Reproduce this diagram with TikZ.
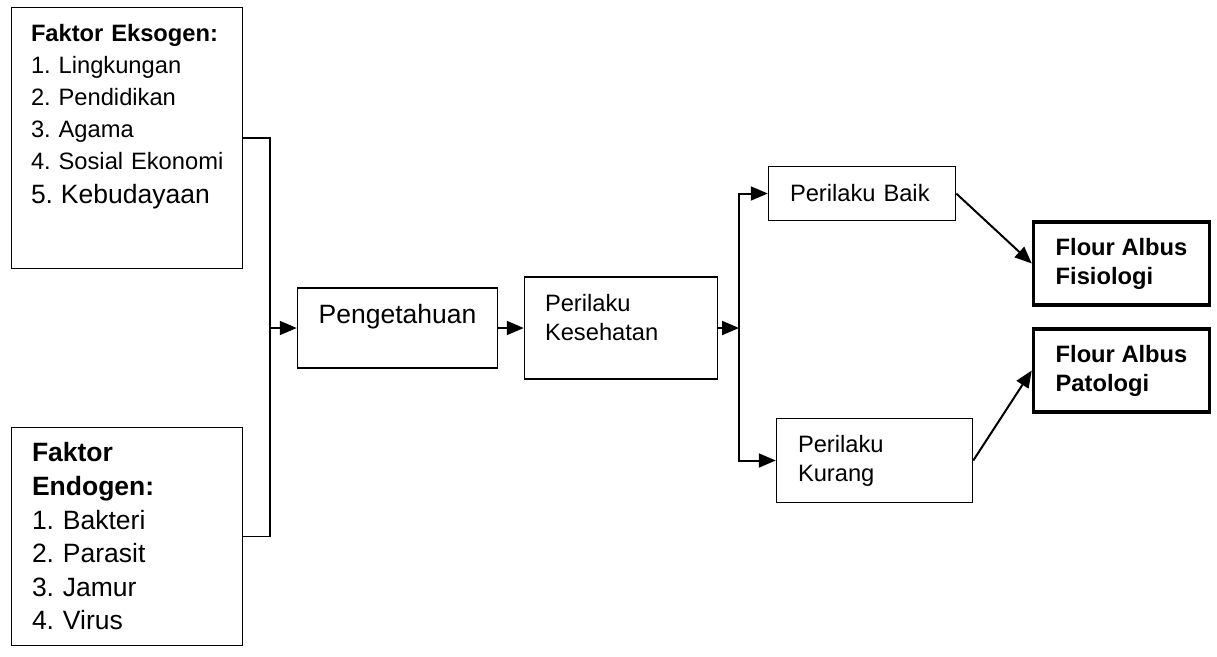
\documentclass[tikz,border=0pt]{standalone}
\usepackage{fontspec}
\setmainfont{Liberation Sans}
\usetikzlibrary{arrows.meta}
\frenchspacing
\newcommand{\normtxt}{\fontsize{23.7pt}{29pt}\selectfont}
\newcommand{\largetxt}{\fontsize{26.5pt}{33.6pt}\selectfont}
\begin{document}
\begin{tikzpicture}[x=1pt,y=-1pt,line width=1.5pt,>={Triangle[length=17pt,width=14pt]},
    box/.style={draw,rectangle,inner sep=0pt,align=left,font=\normtxt},
    result/.style={box,line width=3.5pt,font=\normtxt\bfseries,minimum width=176pt,minimum height=83pt}]
    \useasboundingbox (0,0) rectangle (1217,656);
        \node[box,minimum width=231pt,minimum height=261pt,text width=192pt,text height=18pt,text depth=211pt] (eks) at (127,138)
          {\textbf{Faktor Eksogen:}\\[3pt] 1. Lingkungan\\[3pt] 2. Pendidikan\\[3pt] 3. Agama\\[3pt] \mbox{4. Sosial Ekonomi}\\[5pt] {\largetxt 5. Kebudayaan}};
        \node[box,font=\largetxt,minimum width=231pt,minimum height=218pt,text width=190pt,below of=eks,node distance=398.5pt] (endo)
          {\textbf{Faktor}\\ \textbf{Endogen:}\\ 1. Bakteri\\ 2. Parasit\\ 3. Jamur\\ 4. Virus};
        \node[box,font=\largetxt,minimum width=200pt,minimum height=80pt,text height=20pt,text depth=30pt] (peng) at (397.5,328) {Pengetahuan};
        \node[box,minimum width=193pt,minimum height=102pt,text width=152pt,text height=18pt,text depth=52pt,right of=peng,node distance=223.5pt] (kes) {Perilaku\\Kesehatan};
        \node[box,minimum width=187pt,minimum height=54pt,text width=144pt] (baik) at (862,193.5) {Perilaku Baik};
        \node[box,minimum width=196pt,minimum height=84pt,text width=153pt] (kurang) at (874.5,460.5) {Perilaku\\Kurang};
        \node[result] (fis) at (1121.5,263.5) {Flour Albus\\Fisiologi};
        \node[result,below of=fis,node distance=107pt] (pat) {Flour Albus\\Patologi};
        \coordinate (join) at (270,328);
        \coordinate (split) at (739,328);
        \draw (eks.east) -| (join) |- (endo.east);
        \draw[->,line width=2pt] (join) -- (peng);
        \draw[->,line width=2pt] (peng) -- (kes);
        \draw[->,line width=2pt] (kes) -- (split);
        \draw[->,line width=2pt] (split) |- (baik);
        \draw[->,line width=2pt] (split) |- (kurang);
        \draw[->,line width=2pt] (baik.east) -- (fis.west);
        \draw[->,line width=2pt] (kurang.east) -- (pat.west);

      \end{tikzpicture}
\end{document}
